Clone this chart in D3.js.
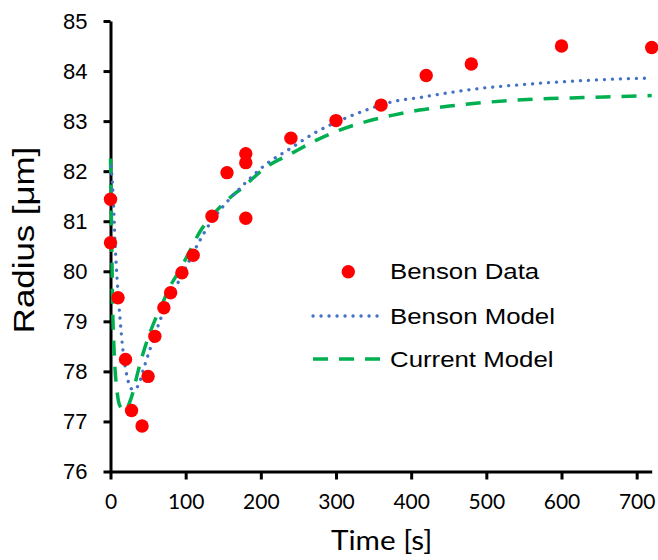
<!DOCTYPE html>
<html>
<head>
<meta charset="utf-8">
<script src="https://cdn.jsdelivr.net/npm/d3@7"></script>
<style>
  body { margin: 0; background: #fff; }
</style>
</head>
<body>
<div id="chart"></div>
<script>
// Benson Data (measured points)
const dataTime = [0, 0, 10, 20, 28, 42, 50, 59, 71, 80, 95, 110, 135, 155, 180, 180, 180, 240, 300, 360, 420, 480, 600, 720];
const dataRadius = [81.44, 80.57, 79.47, 78.24, 77.22, 76.91, 77.9, 78.7, 79.27, 79.57, 79.97, 80.32, 81.1, 81.97, 82.35, 82.17, 81.06, 82.66, 83.01, 83.32, 83.91, 84.14, 84.5, 84.47];

// Benson Model (dotted blue curve)
const bensonTime = [1, 4, 6, 9, 13, 16, 20, 24, 30, 37, 44, 55, 68, 88, 101, 119, 132, 150, 177, 208, 239, 270, 305, 340, 376, 411, 451, 496, 540, 584, 629, 673, 720];
const bensonRadius = [82.1, 81.35, 80.6, 79.8, 79.0, 78.5, 78.05, 77.78, 77.63, 77.72, 78.05, 78.55, 79.1, 79.72, 80.1, 80.62, 80.95, 81.3, 81.73, 82.15, 82.45, 82.75, 83.01, 83.22, 83.39, 83.47, 83.57, 83.66, 83.72, 83.77, 83.81, 83.84, 83.86];

// Current Model (dashed green curve)
const currentTime = [0, 1, 2, 3, 4.5, 6, 8, 12, 19, 28, 37, 46, 59, 66, 79, 92, 106, 119, 130, 150, 177, 208, 239, 270, 305, 340, 376, 411, 451, 496, 540, 584, 629, 673, 720];
const currentRadius = [82.25, 81.3, 80.2, 79.2, 78.5, 78.05, 77.7, 77.33, 77.22, 77.49, 78.02, 78.49, 79.02, 79.25, 79.69, 80.02, 80.42, 80.79, 81.02, 81.35, 81.69, 82.09, 82.34, 82.59, 82.82, 82.99, 83.12, 83.22, 83.3, 83.37, 83.42, 83.45, 83.47, 83.49, 83.51];

const xTicks = [0, 100, 200, 300, 400, 500, 600, 700];
const yTicks = [76, 77, 78, 79, 80, 81, 82, 83, 84, 85];
const seriesNames = ["Benson Data", "Benson Model", "Current Model"];

const arial = "'Liberation Sans', Arial, sans-serif";
const calibri = "Lato, 'Open Sans', sans-serif";

const svg = d3.select("#chart").append("svg")
  .attr("width", 658)
  .attr("height", 560);

const x = d3.scaleLinear().domain([0, 720]).range([110.5, 651.7]);
const y = d3.scaleLinear().domain([76, 85]).range([471.5, 21]);

// stretch a text horizontally (the chart's font is wider than Arial)
function stretch(sel, k) {
  sel.each(function () {
    const w = this.getComputedTextLength();
    d3.select(this).attr("textLength", w * k).attr("lengthAdjust", "spacingAndGlyphs");
  });
}

// axes
const yAxis = svg.append("g")
  .attr("transform", `translate(${x(0)},0)`)
  .call(d3.axisLeft(y).tickValues(yTicks).tickSize(7).tickSizeOuter(0).tickPadding(16));
yAxis.selectAll("text").style("font", `22px ${arial}`).attr("fill", "#000");

const xAxis = svg.append("g")
  .attr("transform", `translate(0,${y(76)})`)
  .call(d3.axisBottom(x).tickValues(xTicks).tickSize(8).tickSizeOuter(0));
xAxis.selectAll("text")
  .style("font", `21px ${calibri}`)
  .attr("fill", "#000")
  .attr("dy", null)
  .attr("y", 37);

svg.selectAll(".domain, .tick line").attr("stroke", "#000").attr("stroke-width", 3);

// axis titles
svg.append("text")
  .attr("x", 381.7)
  .attr("y", 550)
  .attr("text-anchor", "middle")
  .style("font", `26px ${calibri}`)
  .text("Time [s]")
  .call(stretch, 1.14);

svg.append("text")
  .attr("transform", "translate(34,240) rotate(-90)")
  .attr("text-anchor", "middle")
  .style("font", `29px ${arial}`)
  .text("Radius [μm]")
  .call(stretch, 1.2);

// model curves
const line = d3.line()
  .x((d) => x(d[0]))
  .y((d) => y(d[1]))
  .curve(d3.curveMonotoneX);

svg.append("path")
  .datum(d3.zip(currentTime, currentRadius))
  .attr("d", line)
  .attr("fill", "none")
  .attr("stroke", "#00B050")
  .attr("stroke-width", 3.5)
  .attr("stroke-dasharray", "15,11");

svg.append("path")
  .datum(d3.zip(bensonTime, bensonRadius))
  .attr("d", line)
  .attr("fill", "none")
  .attr("stroke", "#4472C4")
  .attr("stroke-width", 3.3)
  .attr("stroke-linecap", "round")
  .attr("stroke-dasharray", "0.1,7.9");

// data points
svg.append("g").selectAll("circle")
  .data(d3.zip(dataTime, dataRadius))
  .join("circle")
  .attr("cx", (d) => x(d[0]))
  .attr("cy", (d) => y(d[1]))
  .attr("r", 6.7)
  .attr("fill", "#FF0000");

// legend
const legend = svg.append("g");
const rows = [271.7, 316, 359];
legend.append("circle").attr("cx", 348.3).attr("cy", rows[0]).attr("r", 6.7).attr("fill", "#FF0000");
legend.append("line")
  .attr("x1", 313).attr("x2", 380).attr("y1", rows[1]).attr("y2", rows[1])
  .attr("stroke", "#4472C4").attr("stroke-width", 3.3)
  .attr("stroke-linecap", "round").attr("stroke-dasharray", "0.1,7.9");
legend.append("line")
  .attr("x1", 313).attr("x2", 381).attr("y1", rows[2]).attr("y2", rows[2])
  .attr("stroke", "#00B050").attr("stroke-width", 3.5)
  .attr("stroke-dasharray", "15,11");
legend.selectAll("text")
  .data(seriesNames)
  .join("text")
  .attr("x", 390)
  .attr("y", (d, i) => rows[i] + 7.7)
  .style("font", `21.5px ${arial}`)
  .attr("fill", "#000")
  .text((d) => d)
  .call(stretch, 1.2);
</script>
</body>
</html>
